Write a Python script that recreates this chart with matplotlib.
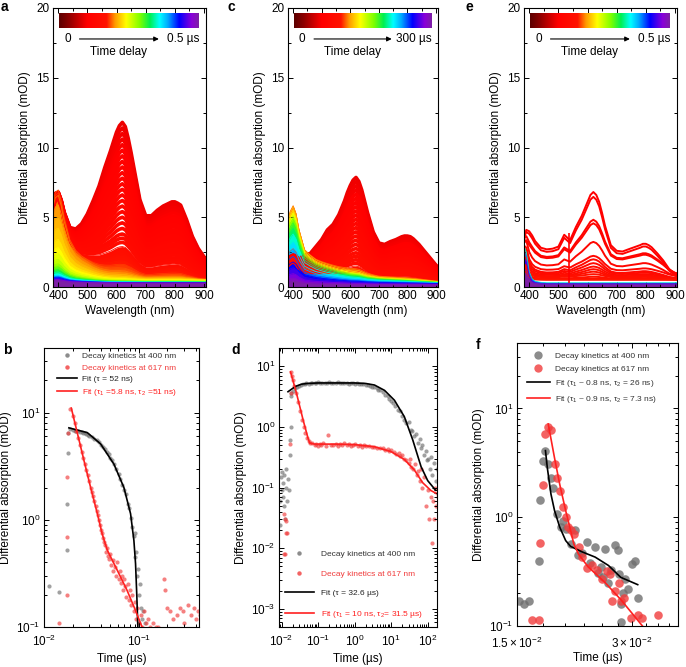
import numpy as np
import matplotlib
matplotlib.use("Agg")
import matplotlib.pyplot as plt
from matplotlib.colors import LinearSegmentedColormap
from matplotlib.lines import Line2D
from matplotlib.ticker import MultipleLocator, LogLocator, FixedLocator, NullFormatter

plt.rcParams["font.family"] = ["Liberation Sans", "DejaVu Sans"]
plt.rcParams["mathtext.fontset"] = "custom"
plt.rcParams["mathtext.rm"] = "Liberation Sans"
plt.rcParams["mathtext.it"] = "Liberation Sans:italic"
plt.rcParams["axes.linewidth"] = 0.8

# ---------------- transient spectra (a, c, e) ----------------
wl = [380, 390, 400, 410, 420, 440, 460, 480, 500, 520, 540, 560, 580, 590, 600, 610,
      620, 630, 640, 650, 660, 680, 700, 720, 740, 760, 780, 790, 800, 810, 820, 840,
      860, 880, 900, 910]

# panel a: shape of the fast band (617/800 nm) and of the 400 nm band
a_band_shape = [0.04, 0.053, 0.045, 0.059, 0.079, 0.113, 0.167, 0.238, 0.328, 0.44, 0.555,
                0.691, 0.81, 0.872, 0.932, 0.976, 1.0, 0.973, 0.901, 0.809, 0.711, 0.514,
                0.413, 0.413, 0.448, 0.475, 0.493, 0.502, 0.502, 0.493, 0.481, 0.392, 0.284,
                0.21, 0.156, 0.138]
a_uv_shape = [0.85, 0.97, 1.0, 0.88, 0.70, 0.45, 0.33, 0.26, 0.21, 0.16, 0.12, 0.09, 0.07,
              0.065, 0.06, 0.055, 0.05, 0.05, 0.045, 0.045, 0.04, 0.035, 0.03, 0.03, 0.03,
              0.03, 0.03, 0.03, 0.03, 0.03, 0.03, 0.025, 0.025, 0.02, 0.02, 0.02]
a_delay = [0.090, 0.092, 0.094, 0.096, 0.098, 0.100, 0.102, 0.104, 0.106, 0.108, 0.110,
           0.112, 0.114, 0.116, 0.118, 0.120, 0.122, 0.124, 0.126, 0.128, 0.130, 0.132,
           0.134,
           0.140, 0.145, 0.150, 0.155, 0.160, 0.165, 0.170, 0.178, 0.185, 0.193, 0.200,
           0.210, 0.220, 0.230, 0.240, 0.250, 0.265, 0.280, 0.300, 0.320, 0.340, 0.360,
           0.380, 0.400, 0.425, 0.450, 0.475, 0.500]
a_band = [11.2, 10.8, 10.4, 10.0, 9.6, 9.2, 8.8, 8.4, 8.0, 7.6, 7.2, 6.8, 6.4, 6.0, 5.6,
          5.2, 4.8, 4.4, 4.0, 3.6, 3.2, 2.9, 2.6,
          2.3, 2.1, 1.9, 1.7, 1.55, 1.4, 1.25, 1.0, 0.7, 0.5, 0.35, 0.25, 0.15, 0.1, 0.06,
          0.04, 0.03, 0.02, 0.02, 0.01, 0.01, 0.01, 0.0, 0.0, 0.0, 0.0, 0.0, 0.0]
a_uv = [6.0] * 23 + [6.0, 6.0, 6.0, 6.0, 6.0, 6.1, 6.2, 6.4, 6.6, 6.2, 5.5, 4.6, 3.8, 3.0,
                     2.4, 2.0, 1.6, 1.3, 1.1, 0.9, 0.75, 0.6, 0.5, 0.45, 0.4, 0.3, 0.25,
                     0.2]
a_offset = [0.3] * 23 + [0.3] * 8 + [0.33, 0.35, 0.38, 0.4, 0.42, 0.42, 0.42, 0.4, 0.38,
                                     0.36, 0.35, 0.34, 0.33, 0.33, 0.32, 0.31, 0.3, 0.3,
                                     0.28, 0.26]

# panel c
c_band_shape = [0.08, 0.08, 0.08, 0.09, 0.10, 0.195, 0.223, 0.302, 0.376, 0.475, 0.533,
                0.631, 0.768, 0.851, 0.919, 0.973, 1.0, 0.962, 0.883, 0.777, 0.671, 0.485,
                0.38, 0.367, 0.395, 0.416, 0.444, 0.452, 0.452, 0.446, 0.427, 0.374, 0.308,
                0.243, 0.177, 0.151]
c_uv_shape = [0.80, 0.93, 1.0, 0.90, 0.70, 0.43, 0.36, 0.30, 0.265, 0.235, 0.21, 0.185,
              0.165, 0.155, 0.145, 0.14, 0.135, 0.13, 0.12, 0.11, 0.1, 0.09, 0.08, 0.075,
              0.07, 0.065, 0.06, 0.058, 0.055, 0.052, 0.05, 0.045, 0.04, 0.035, 0.03, 0.03]
c_delay = [54, 55.5, 57, 58.5, 60, 61.5, 63, 64.5, 66, 67.5, 69, 70.5, 72, 73.5, 75, 76.5,
           78, 79.5, 81, 82.5, 84, 85.5,
           90, 96, 102, 108, 114, 123, 135, 147, 159, 174, 186, 198, 210, 222, 234, 246,
           258, 270, 282, 291, 300]
c_band = [7.45, 7.15, 6.85, 6.55, 6.25, 5.95, 5.65, 5.35, 5.05, 4.75, 4.45, 4.15, 3.85, 3.55,
          3.25, 2.95, 2.65, 2.35, 2.05, 1.8, 1.55, 1.3,
          1.1, 0.9, 0.7, 0.5, 0.35, 0.25, 0.18, 0.12, 0.08, 0.05, 0.03, 0.02, 0.01, 0.01,
          0.0, 0.0, 0.0, 0.0, 0.0, 0.0, 0.0]
c_uv = [1.5] * 22 + [1.5, 1.6, 1.8, 2.5, 5.6, 5.55, 5.3, 5.1, 4.9, 4.7, 4.4, 4.0, 3.6, 3.0,
                     2.5, 2.0, 1.6, 1.2, 0.8, 0.5, 0.3]
c_offset = [0.2] * 22 + [0.2] * 17 + [0.18, 0.16, 0.14, 0.12]

# panel e
e_band_shape = [0.43, 0.535, 0.55, 0.515, 0.458, 0.385, 0.368, 0.375, 0.398, 0.529, 0.468,
                0.614, 0.737, 0.814, 0.891, 0.968, 1.0, 0.968, 0.891, 0.768, 0.629, 0.414,
                0.352, 0.344, 0.368, 0.391, 0.414, 0.429, 0.429, 0.414, 0.391, 0.322, 0.245,
                0.152, 0.098, 0.083]
e_uv_shape = [1.0, 0.8, 0.3, 0.12, 0.06, 0.03, 0.02, 0.02, 0.02, 0.02, 0.02, 0.02, 0.02,
              0.02, 0.02, 0.02, 0.02, 0.02, 0.02, 0.02, 0.02, 0.02, 0.02, 0.02, 0.02, 0.02,
              0.02, 0.02, 0.02, 0.02, 0.02, 0.02, 0.02, 0.02, 0.02, 0.02]
e_delay = [0.100, 0.105, 0.110, 0.115, 0.120, 0.125, 0.130, 0.135, 0.140, 0.145, 0.150,
           0.155, 0.160, 0.165, 0.170,
           0.350, 0.400, 0.450, 0.500]
e_band = [6.5, 6.23, 4.21, 3.95, 2.67, 1.58, 1.49, 1.19, 0.95, 0.79, 0.58, 0.35, 0.21, 0.09,
          0.0, 0.0, 0.0, 0.0, 0.0]
e_uv = [0.4, 0.5, 1.0, 0.8, 1.7, 1.7, 1.7, 1.5, 1.3, 1.4, 0.9, 0.9, 0.9, 0.8, 0.7,
        2.8, 2.5, 2.0, 1.2]
e_offset = [0.3, 0.22, 0.59, 0.6, 0.53, 0.62, 0.46, 0.49, 0.49, 0.46, 0.5, 0.55, 0.51, 0.51,
            0.5, 0.25, 0.22, 0.2, 0.18]
e_spike_wl = 537
e_spike_range = [0.3, 3.9]

# ---------------- decay kinetics (b, d, f) ----------------
b_t400 = [0.0113, 0.0144, 0.0176, 0.0176, 0.0177, 0.0178, 0.019, 0.020, 0.021, 0.022, 0.023,
          0.024, 0.025, 0.026, 0.027, 0.028, 0.029, 0.030, 0.032, 0.034, 0.036, 0.038, 0.040,
          0.042, 0.044, 0.046, 0.048, 0.050, 0.052, 0.055, 0.058, 0.061, 0.064, 0.067, 0.070,
          0.073, 0.076, 0.079, 0.082, 0.085, 0.088, 0.090, 0.092, 0.094, 0.096, 0.098, 0.100,
          0.102, 0.105, 0.108, 0.111, 0.115]
b_v400 = [0.24, 0.21, 0.52, 1.4, 4.2, 6.5, 7.0, 6.9, 6.8, 6.7, 6.7, 6.6, 6.6, 6.5, 6.4, 6.3,
          6.2, 6.1, 5.9, 5.7, 5.5, 5.3, 5.0, 4.8, 4.6, 4.3, 4.1, 3.8, 3.6, 3.3, 3.0, 2.7, 2.4,
          2.1, 1.9, 1.75, 1.4, 1.3, 1.05, 0.85, 0.7, 0.75, 0.45, 0.5, 0.3, 0.35, 0.2, 0.25,
          0.15, 0.12, 0.14, 0.11]
b_t617 = [0.0144, 0.0175, 0.0175, 0.0176, 0.0178, 0.0190, 0.020, 0.021, 0.022, 0.023, 0.024,
          0.025, 0.026, 0.027, 0.028, 0.029, 0.030, 0.031, 0.032, 0.033, 0.034, 0.035, 0.036,
          0.037, 0.038, 0.039, 0.040, 0.041, 0.042, 0.043, 0.044, 0.045, 0.046, 0.047, 0.048,
          0.050, 0.051, 0.053, 0.054, 0.056, 0.058, 0.059, 0.061, 0.063, 0.065, 0.066, 0.068,
          0.070, 0.072, 0.074, 0.076, 0.078, 0.080, 0.083, 0.085, 0.088, 0.090, 0.093, 0.096,
          0.100, 0.104, 0.108, 0.112, 0.118, 0.124, 0.132, 0.140, 0.150, 0.160, 0.183, 0.190,
          0.200, 0.215, 0.230, 0.250, 0.270, 0.290, 0.300, 0.330, 0.350, 0.380, 0.400, 0.420,
          0.440]
b_v617 = [0.11, 0.20, 0.69, 2.5, 6.4, 10.8, 9.2, 8.0, 6.8, 5.8, 5.0, 4.3, 3.8, 3.3, 2.9, 2.6,
          2.3, 2.0, 1.8, 1.65, 1.5, 1.35, 1.2, 1.1, 1.0, 0.9, 0.8, 0.75, 0.68, 0.62, 0.58,
          0.5, 0.55, 0.46, 0.43, 0.48, 0.38, 0.42, 0.33, 0.36, 0.30, 0.4, 0.28, 0.33, 0.26,
          0.3, 0.22, 0.28, 0.24, 0.19, 0.25, 0.18, 0.22, 0.16, 0.2, 0.14, 0.17, 0.12, 0.15,
          0.11, 0.13, 0.1, 0.14, 0.11, 0.12, 0.1, 0.11, 0.1, 0.1, 0.28, 0.22, 0.15, 0.14,
          0.12, 0.13, 0.15, 0.14, 0.11, 0.16, 0.13, 0.15, 0.12, 0.14, 0.13]
b_fit400_t = [0.0183, 0.022, 0.0286, 0.0395, 0.0546, 0.0695, 0.0817, 0.0886, 0.0922, 0.095,
              0.0975]
b_fit400_v = [7.2, 6.9, 6.5, 5.1, 3.3, 2.0, 1.14, 0.64, 0.39, 0.2, 0.1]
b_fit617_t = [0.0194, 0.0224, 0.0264, 0.031, 0.0365, 0.041, 0.0465, 0.059, 0.075, 0.0886,
              0.108]
b_fit617_v = [11.0, 6.5, 3.56, 2.0, 1.14, 0.74, 0.52, 0.34, 0.22, 0.155, 0.1]

d_t400 = [0.0090, 0.0093, 0.0097, 0.0100, 0.0104, 0.0108, 0.0112, 0.0116, 0.0120, 0.0125,
          0.0130, 0.0136, 0.0142, 0.0150, 0.0160, 0.0168, 0.0172, 0.0176, 0.0180, 0.0185,
          0.021, 0.024, 0.027, 0.030, 0.034, 0.038, 0.043, 0.048, 0.055, 0.062, 0.07, 0.08,
          0.09, 0.1, 0.115, 0.13, 0.15, 0.17, 0.2, 0.23, 0.26, 0.3, 0.35, 0.4, 0.45, 0.5,
          0.6, 0.7, 0.8, 0.9, 1.0, 1.15, 1.3, 1.5, 1.7, 2.0, 2.3, 2.6, 3.0, 3.5, 4.0, 4.5,
          5.0, 6.0, 7.0, 8.0, 9.0, 10, 11.5, 13, 15, 17, 20, 23, 26, 30, 34, 38, 43, 48, 55,
          60, 66, 72, 80, 88, 95, 105, 115, 125, 135, 150, 165, 180, 190]
d_v400 = [0.024, 0.06, 0.15, 0.09, 0.18, 0.07, 0.12, 0.05, 0.16, 0.03, 0.1, 0.2, 0.06, 0.14,
          0.09, 0.35, 0.6, 1.0, 3.2, 3.6,
          3.9, 4.3, 4.6, 4.8, 4.9, 5.1, 5.0, 5.2, 5.1, 5.3, 5.2, 5.3, 5.2, 5.4, 5.2, 5.3,
          5.3, 5.2, 5.4, 5.3, 5.2, 5.3, 5.4, 5.2, 5.3, 5.2, 5.3, 5.1, 5.3, 5.2, 5.1, 5.2,
          5.0, 5.1, 5.0, 4.9, 4.9, 4.7, 4.6, 4.5, 4.3, 4.1, 4.0, 3.7, 3.4, 3.2, 2.9, 2.7,
          2.5, 2.2, 1.9, 1.8, 1.5, 1.3, 1.15, 1.2, 0.9, 0.85, 0.7, 0.75, 0.55, 0.62, 0.45,
          0.5, 0.35, 0.4, 0.28, 0.3, 0.2, 0.32, 0.16, 0.25, 0.13, 0.2, 0.1]
d_t617 = [0.0115, 0.0121, 0.0118, 0.0125, 0.0130, 0.0136, 0.0140, 0.0172, 0.0176, 0.0180,
          0.0190, 0.020, 0.022, 0.025, 0.028, 0.032, 0.036, 0.040, 0.045, 0.050, 0.055,
          0.060, 0.07, 0.08, 0.09, 0.1, 0.11, 0.12, 0.14, 0.16, 0.19, 0.22, 0.25, 0.3,
          0.35, 0.4, 0.45, 0.5, 0.6, 0.7, 0.8, 0.9, 1.0, 1.2, 1.4, 1.6, 1.8, 2.0, 2.5, 3.0,
          3.5, 4.0, 5.0, 6.0, 7.0, 8.0, 9.0, 10, 12, 14, 16, 18, 20, 23, 26, 30, 33, 36,
          40, 45, 50, 55, 60, 65, 70, 80, 90, 100, 110, 120, 130, 140, 150, 160, 170, 180,
          190]
d_v617 = [0.008, 0.008, 0.036, 0.03, 0.018, 0.028, 0.018, 0.52, 3.6, 8.0, 6.8, 6.0, 4.8,
          3.6, 2.6, 1.8, 1.3, 1.0, 0.8, 0.65, 0.58, 0.55,
          0.55, 0.5, 0.53, 0.49, 0.52, 0.5, 0.54, 0.48, 0.73, 0.51, 0.5, 0.53, 0.49, 0.52,
          0.5, 0.55, 0.5, 0.52, 0.48, 0.5, 0.53, 0.49, 0.5, 0.47, 0.5, 0.48, 0.49, 0.46,
          0.47, 0.45, 0.44, 0.45, 0.42, 0.43, 0.4, 0.41, 0.38, 0.36, 0.37, 0.33, 0.34, 0.3,
          0.28, 0.25, 0.3, 0.22, 0.2, 0.24, 0.16, 0.19, 0.13, 0.2, 0.1, 0.15, 0.05, 0.09,
          0.03, 0.07, 0.012, 0.06, 0.03, 0.1, 0.05, 0.08, 0.07]
d_fit400_t = [0.015, 0.02, 0.025, 0.035, 0.05, 0.1, 0.3, 1.0, 2.0, 3.5, 6.6, 12.3, 23, 39,
              66, 100, 165]
d_fit400_v = [3.8, 4.3, 4.7, 5.06, 5.2, 5.3, 5.3, 5.3, 5.2, 4.9, 4.0, 2.75, 1.47, 0.61,
              0.22, 0.13, 0.09]
d_fit617_t = [0.0176, 0.0257, 0.039, 0.053, 0.059, 0.08, 0.3, 1, 3.5, 10, 23, 43, 73, 123,
              165]
d_fit617_v = [8.07, 3.55, 1.29, 0.65, 0.54, 0.52, 0.52, 0.51, 0.47, 0.39, 0.29, 0.195,
              0.12, 0.089, 0.081]

f_t400 = [0.0152, 0.0156, 0.0161, 0.0171, 0.0172, 0.0175, 0.0178, 0.0181, 0.0184, 0.0186,
          0.0191, 0.0195, 0.0198, 0.0201, 0.0207, 0.0213, 0.0217, 0.0222, 0.0228, 0.0233,
          0.024, 0.0244, 0.0248, 0.0251, 0.0254, 0.026, 0.0264, 0.0271, 0.0275, 0.0277,
          0.028, 0.0283, 0.0288, 0.0293, 0.030, 0.0305, 0.031, 0.028]
f_v400 = [0.169, 0.158, 0.169, 0.40, 1.44, 3.27, 4.1, 3.06, 2.31, 1.87, 1.07, 0.81, 0.93,
          0.78, 0.57, 0.76, 0.45, 0.47, 0.59, 0.38, 0.53, 0.31, 0.35, 0.28, 0.51, 0.25,
          0.33, 0.55, 0.5, 0.3, 0.158, 0.2, 0.27, 0.22, 0.375, 0.4, 0.18, 0.109]
f_t617 = [0.0164, 0.0171, 0.0172, 0.0175, 0.0178, 0.0181, 0.0184, 0.0188, 0.0191, 0.0194,
          0.0198, 0.0201, 0.0204, 0.0207, 0.0211, 0.0218, 0.0222, 0.0229, 0.0236, 0.0243,
          0.025, 0.0258, 0.0262, 0.0266, 0.0271, 0.0277, 0.028, 0.0285, 0.0298, 0.031,
          0.0318, 0.0351]
f_v617 = [0.113, 0.113, 0.58, 1.97, 5.8, 6.8, 6.3, 3.06, 2.3, 1.75, 1.23, 1.0, 0.81, 0.76,
          0.7, 0.53, 0.43, 0.34, 0.36, 0.33, 0.27, 0.32, 0.3, 0.17, 0.21, 0.25, 0.169, 0.18,
          0.119, 0.125, 0.119, 0.125]
f_fit400_t = [0.0178, 0.018, 0.0184, 0.0188, 0.0194, 0.0201, 0.0207, 0.0222, 0.024, 0.026,
              0.028, 0.031]
f_fit400_v = [4.1, 2.85, 1.63, 1.15, 0.81, 0.61, 0.54, 0.48, 0.43, 0.36, 0.28, 0.24]
f_fit617_t = [0.0181, 0.0188, 0.0194, 0.0201, 0.0207, 0.0211, 0.0217, 0.023, 0.0255, 0.028,
              0.0319]
f_fit617_v = [7.2, 3.5, 2.0, 1.15, 0.76, 0.57, 0.46, 0.35, 0.25, 0.175, 0.1]

# time delay colour scale
cmap_pos = [0, 0.07, 0.2, 0.34, 0.40, 0.48, 0.58, 0.65, 0.72, 0.78, 0.86, 0.95, 1.0]
cmap_col = ["#5c0000", "#8e0000", "#ff0000", "#ff1400", "#ff9a00", "#ffff00", "#7cff00",
            "#00f050", "#00ffff", "#00a8ff", "#0000ff", "#8a00d8", "#7d1fa5"]
delay_cmap = LinearSegmentedColormap.from_list("delay", list(zip(cmap_pos, cmap_col)))

GRAY = "#6f6f6f"
RED_DOT = "#f03c3c"
RED_LINE = "#ff2020"
FS = 8.5


def spectra_panel(ax, band_shape, uv_shape, delay, band, uv, offset, t_max, n_lines, lw,
                  t_label):
    B = np.array(band_shape)
    U = np.array(uv_shape)
    for i in range(len(delay)):
        y = band[i] * B + uv[i] * U + offset[i]
        col = delay_cmap(delay[i] / t_max)
        if i < n_lines:
            ax.plot(wl, y, color=col, lw=lw, solid_joinstyle="round")
        else:
            ax.fill_between(wl, 0, y, color=col, lw=0)
            ax.plot(wl, y, color=col, lw=0.6)
    ax.set_xlim(382, 907)
    ax.set_ylim(0, 20)
    ax.xaxis.set_major_locator(MultipleLocator(100))
    ax.xaxis.set_minor_locator(MultipleLocator(50))
    ax.yaxis.set_major_locator(MultipleLocator(5))
    ax.yaxis.set_minor_locator(MultipleLocator(2.5))
    ax.set_xlabel("Wavelength (nm)", fontsize=FS, labelpad=2)
    ax.set_ylabel("Differential absorption (mOD)", fontsize=FS, labelpad=4)
    # colour bar for the time delay
    cax = ax.inset_axes([0.04, 0.928, 0.915, 0.054])
    cax.imshow(np.linspace(0, 1, 256)[None, :], cmap=delay_cmap, aspect="auto")
    cax.set_axis_off()
    ax.text(0.095, 0.889, "0", transform=ax.transAxes, fontsize=FS, ha="center",
            va="center")
    ax.annotate("", xy=(0.71, 0.889), xytext=(0.155, 0.889), xycoords="axes fraction",
                arrowprops=dict(arrowstyle="-|>", color="k", lw=0.8, mutation_scale=7))
    ax.text(0.955, 0.889, t_label, transform=ax.transAxes, fontsize=FS, ha="right",
            va="center")
    ax.text(0.43, 0.841, "Time delay", transform=ax.transAxes, fontsize=FS, ha="center",
            va="center")


def style_axes(ax, xpad=2.5):
    ax.tick_params(which="both", direction="in", top=True, right=True, labelsize=FS,
                   width=0.7)
    ax.tick_params(which="major", length=3.5, pad=2.5)
    ax.tick_params(which="minor", length=2)
    ax.tick_params(axis="x", which="major", pad=xpad)


def kinetics_panel(ax, t1, v1, t2, v2, ft1, fv1, ft2, fv2, size, alpha, xlabelpad=3):
    ax.scatter(t1, v1, s=size, color=GRAY, alpha=alpha, lw=0)
    ax.scatter(t2, v2, s=size, color=RED_DOT, alpha=alpha, lw=0)
    ax.plot(ft1, fv1, color="k", lw=1.2)
    ax.plot(ft2, fv2, color=RED_LINE, lw=1.2)
    ax.set_xscale("log")
    ax.set_yscale("log")
    ax.set_xlabel("Time (µs)", fontsize=FS, labelpad=xlabelpad)
    ax.set_ylabel("Differential absorption (mOD)", fontsize=FS, labelpad=3)


def kinetics_legend(ax, labels, text_colors, ms, anchor, spacing, hlen, pad):
    handles = [Line2D([], [], ls="", marker="o", ms=ms, color=GRAY, alpha=0.8, mew=0),
               Line2D([], [], ls="", marker="o", ms=ms, color=RED_DOT, alpha=0.8, mew=0),
               Line2D([], [], color="k", lw=1.2),
               Line2D([], [], color=RED_LINE, lw=1.2)]
    leg = ax.legend(handles, labels, loc="upper left", bbox_to_anchor=anchor, frameon=False,
                    fontsize=6, labelspacing=spacing, handlelength=hlen, handletextpad=pad,
                    borderpad=0, borderaxespad=0)
    for txt, c in zip(leg.get_texts(), text_colors):
        txt.set_color(c)


fig = plt.figure(figsize=(6.86, 6.67), dpi=100)
W, H = 686.0, 667.0


def box(x0, y0, x1, y1):
    return [x0 / W, 1 - y1 / H, (x1 - x0) / W, (y1 - y0) / H]


ax_a = fig.add_axes(box(53, 8, 206, 287))
ax_c = fig.add_axes(box(288, 8, 438, 287))
ax_e = fig.add_axes(box(524, 8, 677, 287))
ax_b = fig.add_axes(box(44, 348, 199, 627))
ax_d = fig.add_axes(box(279, 348, 437, 627))
ax_f = fig.add_axes(box(517, 343, 678, 626))

spectra_panel(ax_a, a_band_shape, a_uv_shape, a_delay, a_band, a_uv, a_offset, 0.5, 23,
              2.6, "0.5 µs")
spectra_panel(ax_c, c_band_shape, c_uv_shape, c_delay, c_band, c_uv, c_offset, 300, 22,
              2.6, "300 µs")
spectra_panel(ax_e, e_band_shape, e_uv_shape, e_delay, e_band, e_uv, e_offset, 0.5, 15,
              1.4, "0.5 µs")
ax_e.vlines(e_spike_wl, e_spike_range[0], e_spike_range[1], color="#ff0000", lw=1.2)

# panel b
kinetics_panel(ax_b, b_t400, b_v400, b_t617, b_v617, b_fit400_t, b_fit400_v, b_fit617_t,
               b_fit617_v, 9, 0.65)
ax_b.set_xlim(0.01, 0.43)
ax_b.set_ylim(0.1, 40)
kinetics_legend(ax_b, ["Decay kinetics at 400 nm", "Decay kinetics at 617 nm",
                       "Fit (τ = 52 ns)", "Fit (τ$_1$ =5.8 ns, τ$_2$ =51 ns)"],
                ["#333333", RED_DOT, "#222222", RED_LINE], 3.2, (0.085, 0.985), 0.45, 2.4,
                0.6)

# panel d
kinetics_panel(ax_d, d_t400, d_v400, d_t617, d_v617, d_fit400_t, d_fit400_v, d_fit617_t,
               d_fit617_v, 9, 0.65)
ax_d.set_xlim(0.0085, 180)
ax_d.set_ylim(5e-4, 20)
kinetics_legend(ax_d, ["Decay kinetics at 400 nm", "Decay kinetics at 617 nm",
                       "Fit (τ = 32.6 µs)", "Fit (τ$_1$ = 10 ns, τ$_2$= 31.5 µs)"],
                ["#333333", RED_DOT, "#222222", RED_LINE], 3.2, (0.04, 0.275), 1.4, 3.4,
                0.85)

# panel f
kinetics_panel(ax_f, f_t400, f_v400, f_t617, f_v617, f_fit400_t, f_fit400_v, f_fit617_t,
               f_fit617_v, 38, 0.8, xlabelpad=0.5)
ax_f.set_xlim(0.015, 0.0395)
ax_f.set_ylim(0.1, 40)
kinetics_legend(ax_f, ["Decay kinetics at 400 nm", "Decay kinetics at 617 nm",
                       "Fit (τ$_1$ ~ 0.8 ns, τ$_2$ = 26 ns)",
                       "Fit (τ$_1$ ~ 0.9 ns, τ$_2$ = 7.3 ns)"],
                ["#333333"] * 4, 6, (0.06, 0.968), 0.6, 2.75, 0.6)

for ax in (ax_b, ax_d):
    ax.xaxis.set_major_locator(LogLocator(base=10, numticks=20))
    ax.xaxis.set_minor_locator(LogLocator(base=10, subs=np.arange(2, 10), numticks=100))
    ax.xaxis.set_minor_formatter(NullFormatter())
for ax in (ax_b, ax_d, ax_f):
    ax.yaxis.set_major_locator(LogLocator(base=10, numticks=20))
    ax.yaxis.set_minor_locator(LogLocator(base=10, subs=np.arange(2, 10), numticks=100))
    ax.yaxis.set_minor_formatter(NullFormatter())
ax_f.xaxis.set_major_locator(FixedLocator([0.015, 0.03]))
ax_f.set_xticklabels([r"$1.5\times10^{-2}$", r"$3\times10^{-2}$"])
ax_f.xaxis.set_minor_locator(MultipleLocator(0.0025))
ax_f.xaxis.set_minor_formatter(NullFormatter())

for ax in (ax_a, ax_c, ax_e):
    style_axes(ax)
style_axes(ax_b, xpad=5)
style_axes(ax_d, xpad=5)
style_axes(ax_f, xpad=7)

# panel letters
for x, y, s in [(1, 0, "a"), (3, 343, "b"), (227, 0, "c"), (231, 343, "d"), (465, 0, "e"),
                (476, 338, "f")]:
    fig.text(x / W, 1 - y / H, s, fontsize=10, fontweight="bold", va="top", ha="left")

fig.savefig("out.png", dpi=100)
